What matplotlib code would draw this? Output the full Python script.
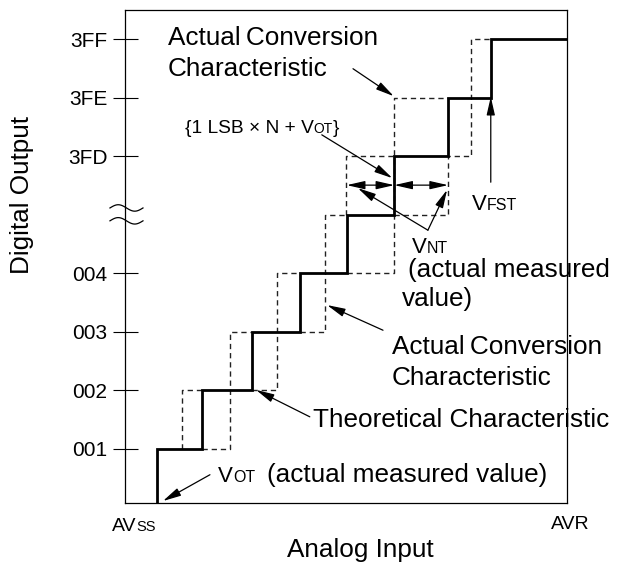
import numpy as np
import matplotlib
matplotlib.use("Agg")
import matplotlib.pyplot as plt
from matplotlib.transforms import offset_copy

plt.rcParams['font.family'] = ['Liberation Sans', 'DejaVu Sans']

# output codes on the y axis (level 5 is hidden behind the axis break)
code_levels = [1, 2, 3, 4, 6, 7, 8]
code_labels = ['001', '002', '003', '004', '3FD', '3FE', '3FF']

# theoretical characteristic: input where the output steps up to the next code
theo_x = [-1.0, 0.667, 1.60, 2.64, 3.65, 4.62, 5.61, 6.73, 7.62, 10.0]
theo_code = [0, 1, 2, 3, 4, 5, 6, 7, 8, 8]

# actual conversion characteristic (dashed), as polylines of (input, code)
actual_x = [
    [1.18, 1.18, 1.60],
    [1.60, 2.19, 2.19, 2.64],
    [2.64, 3.16, 3.16, 3.65],
    [3.65, 4.17, 4.17, 4.62],
    [4.62, 5.61, 5.61, 6.73],
    [4.60, 4.60, 5.61],
    [5.61, 6.73, 6.73, 7.21, 7.21, 7.62],
]
actual_code = [
    [1, 2, 2],
    [1, 1, 3, 3],
    [2, 2, 4, 4],
    [3, 3, 5, 5],
    [4, 4, 7, 7],
    [5, 6, 6],
    [5, 5, 6, 6, 8, 8],
]

fig = plt.figure(figsize=(6.19, 5.67), dpi=100)
ax = fig.add_axes([0.2019, 0.1129, 0.7141, 0.8695])
ax.set_xlim(0, 9.208)
ax.set_ylim(0.077, 8.504)

for xs, ys in zip(actual_x, actual_code):
    ax.plot(xs, ys, color='#222222', lw=1.0, dashes=(3.8, 2.8))
ax.step(theo_x, theo_code, where='post', color='black', lw=2.0,
        solid_joinstyle='miter')

for sp in ax.spines.values():
    sp.set_linewidth(0.9)
ax.set_xticks([])
ax.set_yticks(code_levels)
ax.set_yticklabels(code_labels, fontsize=15)
ax.tick_params(axis='y', direction='inout', length=18, width=0.8, pad=3.6)

# axis break marks
t = np.linspace(0, 2 * np.pi, 60)
bx = -0.3125 + (0.375 + 0.3125) * t / (2 * np.pi)
for yb in (5.12, 4.90):
    ax.plot(bx, yb + 0.055 * np.sin(t), color='black', lw=0.9, clip_on=False)

fig.canvas.draw()
renderer = fig.canvas.get_renderer()


def chain(x, y, pieces, gap=0.0):
    dx = 0.0
    for s, size in pieces:
        tr = offset_copy(ax.transData, fig=fig, x=dx, y=0, units='dots')
        txt = ax.text(x, y, s, fontsize=size, ha='left', va='baseline',
                      transform=tr)
        dx += txt.get_window_extent(renderer).width + gap


arrow = dict(arrowstyle='-|>,head_length=1.1,head_width=0.25',
             mutation_scale=10, lw=0.9, color='black', shrinkA=0, shrinkB=0)
darrow = dict(arrowstyle='<|-|>,head_length=1.1,head_width=0.25',
              mutation_scale=10, lw=0.9, color='black', shrinkA=0, shrinkB=0)


def arr(tail, head, props=arrow):
    ax.annotate('', xy=head, xytext=tail, arrowprops=props)


big = 18.8

ax.text(0.896, 7.906, 'Actual\u2009Conversion', fontsize=big, va='baseline')
ax.text(0.896, 7.376, 'Characteristic', fontsize=big, va='baseline')
arr((4.75, 7.50), (5.60, 7.03))

chain(1.25, 6.40, [('{1 LSB \u00d7 N + V', 13.8), ('OT', 10), ('}', 13.8)])
arr((4.10, 6.37), (5.57, 5.63))

arr((4.62, 5.51), (5.61, 5.51), darrow)
arr((5.61, 5.51), (6.73, 5.51), darrow)

chain(7.23, 5.085, [('V', 16), ('FST', 11.5)])
arr((7.62, 5.56), (7.62, 7.02))

chain(5.98, 4.35, [('V', 16), ('NT', 11.5)])
arr((6.31, 4.74), (4.85, 5.46))
arr((6.31, 4.74), (6.71, 5.43))
ax.text(5.90, 3.94, '(actual measured', fontsize=big, va='baseline')
ax.text(5.77, 3.44, 'value)', fontsize=big, va='baseline')

ax.text(5.56, 2.62, 'Actual\u2009Conversion', fontsize=big, va='baseline')
ax.text(5.56, 2.09, 'Characteristic', fontsize=big, va='baseline')
arr((5.375, 3.03), (4.21, 3.46))

ax.text(3.92, 1.376, 'Theoretical Characteristic', fontsize=big, va='baseline')
arr((3.85, 1.55), (2.73, 2.01))

chain(1.94, 0.436, [('V', 16), ('OT', 11.5)])
ax.text(2.96, 0.436, '(actual measured value)', fontsize=big, va='baseline')
arr((1.77, 0.56), (0.79, 0.11))

chain(-0.27, -0.40, [('AV', 14), ('SS', 10.5)])
ax.text(8.875, -0.37, 'AVR', fontsize=14, va='baseline')
ax.text(4.90, -0.85, 'Analog Input', fontsize=big, ha='center', va='baseline')
ax.text(-2.15, 5.34, 'Digital Output', fontsize=big, rotation=90,
        ha='center', va='center')

fig.savefig('out.png', dpi=100)
